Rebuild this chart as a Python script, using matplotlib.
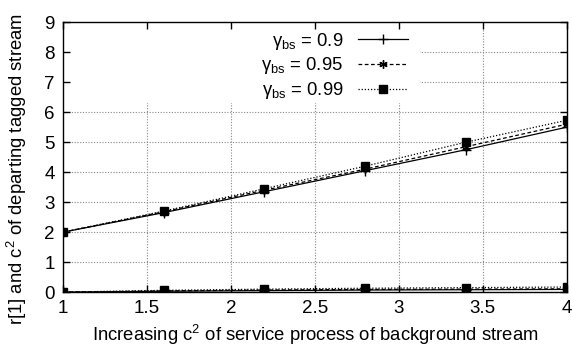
import matplotlib
matplotlib.use("Agg")
import matplotlib.pyplot as plt
from matplotlib.patches import Rectangle

plt.rcParams['font.family'] = ['Liberation Sans', 'DejaVu Sans']
plt.rcParams['mathtext.fontset'] = 'custom'
plt.rcParams['mathtext.rm'] = 'Liberation Sans'
plt.rcParams['mathtext.it'] = 'Liberation Sans:italic'

# c^2 of background service process
x_vals = [1.0, 1.6, 2.2, 2.8, 3.4, 4.0]

gammas = ['0.9', '0.95', '0.99']

# r[1] of departing tagged stream
r1_090 = [0.0, 0.03, 0.05, 0.07, 0.08, 0.09]
r1_095 = [0.0, 0.04, 0.07, 0.09, 0.10, 0.11]
r1_099 = [0.0, 0.06, 0.10, 0.13, 0.15, 0.17]

# c^2 of departing tagged stream
c2_090 = [2.0, 2.65, 3.35, 4.05, 4.75, 5.50]
c2_095 = [2.0, 2.68, 3.40, 4.10, 4.85, 5.60]
c2_099 = [2.0, 2.70, 3.45, 4.20, 5.00, 5.73]

x_ticks = [1, 1.5, 2, 2.5, 3, 3.5, 4]
y_ticks = list(range(0, 10))

styles = [
    dict(linestyle='-', marker='+', markersize=7, markeredgewidth=1.0),
    dict(linestyle=(0, (3, 2)), marker=(6, 2, 0), markersize=6, markeredgewidth=1.0),
    dict(linestyle=(0, (1, 1.5)), marker='s', markersize=6),
]

fig = plt.figure(figsize=(5.72, 3.58), dpi=100)
ax = fig.add_axes([0.110, 0.184, 0.881, 0.754])

series = [(r1_090, c2_090), (r1_095, c2_095), (r1_099, c2_099)]
for g, (r1, c2), st in zip(gammas, series, styles):
    ax.plot(x_vals, c2, color='black', linewidth=0.9, zorder=2,
            label=r'$\mathregular{\gamma_{bs}}$ = ' + g, **st)
    ax.plot(x_vals, r1, color='black', linewidth=0.9, zorder=2, **st)

ax.set_xlim(1, 4)
ax.set_ylim(0, 9)
ax.set_xticks(x_ticks)
ax.set_xticklabels(['1', '1.5', '2', '2.5', '3', '3.5', '4'])
ax.set_yticks(y_ticks)

# gnuplot-like dotted grid, drawn by hand so the key box can hide part of it
ax.hlines(y_ticks[1:-1], 1, 4, colors='#888888', linestyles=(0, (1, 1.5)),
          linewidth=0.8, zorder=1)
ax.vlines(x_ticks[1:-1], 0, 9, colors='#888888', linestyles=(0, (1, 1.5)),
          linewidth=0.8, zorder=1)
ax.add_patch(Rectangle((0, 0.70), 0.708, 0.30, transform=ax.transAxes,
                       facecolor='white', edgecolor='none', zorder=1.2))

ax.tick_params(direction='in', top=True, right=True, length=5, width=1,
               labelsize=13.5, pad=6)
for s in ax.spines.values():
    s.set_linewidth(1.0)

ax.set_xlabel(r'Increasing c$\mathregular{^2}$ of service process of background stream',
              fontsize=13.3, labelpad=4)
ax.set_ylabel(r'r[1] and c$\mathregular{^2}$ of departing tagged stream',
              fontsize=13.3)
ax.yaxis.set_label_coords(-0.068, 0.455)

leg = ax.legend(loc='upper right', bbox_to_anchor=(0.707, 1.01), frameon=False,
                markerfirst=False, fontsize=13.3, handlelength=2.7,
                handletextpad=0.8, labelspacing=0.2, borderpad=0.1)
for t in leg.get_texts():
    t.set_ha('right')

fig.savefig('out.png', dpi=100)
